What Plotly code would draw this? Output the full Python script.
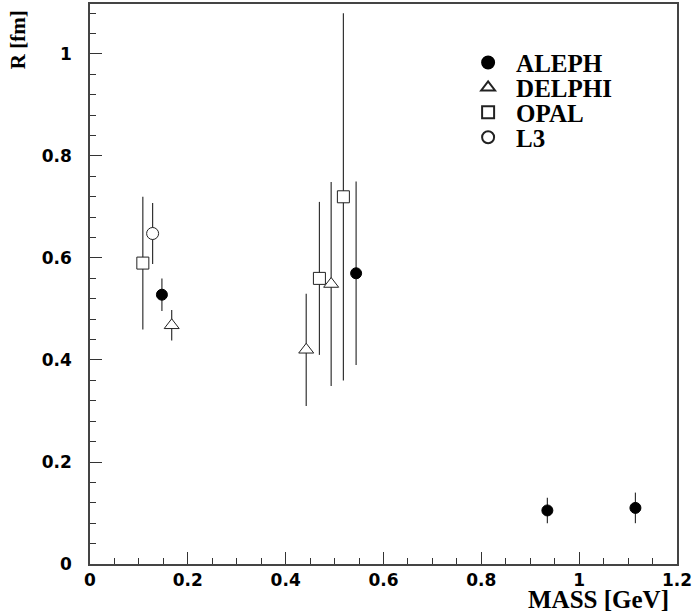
import plotly.graph_objects as go

# ---- data (mass in GeV, radius R in fm) ----
aleph_mass = [0.147, 0.544, 0.935, 1.115]
aleph_r = [0.528, 0.570, 0.105, 0.110]
aleph_err = [0.032, 0.180, 0.025, 0.030]

delphi_mass = [0.167, 0.442, 0.493]
delphi_r = [0.468, 0.420, 0.549]
delphi_err_plus = [0.030, 0.110, 0.200]
delphi_err_minus = [0.030, 0.110, 0.200]

opal_mass = [0.108, 0.469, 0.518]
opal_r = [0.590, 0.560, 0.720]
opal_err_plus = [0.130, 0.150, 0.360]
opal_err_minus = [0.130, 0.150, 0.360]

l3_mass = [0.128]
l3_r = [0.648]
l3_err_plus = [0.060]
l3_err_minus = [0.060]

x_ticks = [0, 0.2, 0.4, 0.6, 0.8, 1.0, 1.2]
x_ticklabels = ["0", "0.2", "0.4", "0.6", "0.8", "1", "1.2"]
y_ticks = [0, 0.2, 0.4, 0.6, 0.8, 1.0]
y_ticklabels = ["0", "0.2", "0.4", "0.6", "0.8", "1"]

ERR_COLOR = "#333333"
SERIF = "Liberation Serif, Times New Roman, serif"
SANS = "DejaVu Sans, Arial, sans-serif"

fig = go.Figure()


def err(plus, minus):
    return dict(type="data", symmetric=False, array=plus, arrayminus=minus,
                color=ERR_COLOR, thickness=1.2, width=0)


fig.add_trace(go.Scatter(
    x=aleph_mass, y=aleph_r, mode="markers", name="ALEPH", legend="legend",
    error_y=err(aleph_err, aleph_err),
    marker=dict(symbol="circle", size=11, color="black",
                line=dict(color="black", width=1)),
))
fig.add_trace(go.Scatter(
    x=delphi_mass, y=delphi_r, mode="markers", name="DELPHI", legend="legend2",
    error_y=err(delphi_err_plus, delphi_err_minus),
    marker=dict(symbol="triangle-up", size=13, color="white",
                line=dict(color="#222222", width=1)),
))
fig.add_trace(go.Scatter(
    x=opal_mass, y=opal_r, mode="markers", name="OPAL", legend="legend3",
    error_y=err(opal_err_plus, opal_err_minus),
    marker=dict(symbol="square", size=12, color="white",
                line=dict(color="#222222", width=1)),
))
fig.add_trace(go.Scatter(
    x=l3_mass, y=l3_r, mode="markers", name="L3", legend="legend4",
    error_y=err(l3_err_plus, l3_err_minus),
    marker=dict(symbol="circle", size=12, color="white",
                line=dict(color="#222222", width=1)),
))

L, R, T, B = 90, 14, 2, 52
W, H = 694, 616
pw = W - L - R
ph = H - T - B


def px_x(p):
    return (p - L) / pw


def px_y(p):
    return 1 - (p - T) / ph


leg_common = dict(
    font=dict(family=SERIF, size=25, color="black", weight="bold"),
    bgcolor="rgba(0,0,0,0)", borderwidth=0, xanchor="left", yanchor="middle",
    itemsizing="constant", itemwidth=46, x=px_x(462),
)
fig.update_layout(
    legend=dict(y=px_y(61), **leg_common),
    legend2=dict(y=px_y(86), **leg_common),
    legend3=dict(y=px_y(111), **leg_common),
    legend4=dict(y=px_y(136), **leg_common),
)

axis_common = dict(
    showgrid=False, zeroline=False, showline=True, linecolor="#444444",
    linewidth=1.5, mirror=True, ticks="inside", tickcolor="#333333",
    tickwidth=1, ticklen=12, ticklabeloverflow="allow",
    tickfont=dict(family=SANS, size=17, color="black", weight="bold"),
)
fig.update_xaxes(range=[0, 1.2], tickvals=x_ticks, ticktext=x_ticklabels,
                 minor=dict(dtick=0.05, ticks="inside", ticklen=6,
                            tickcolor="#333333", tickwidth=1),
                 ticklabelstandoff=0, **axis_common)
fig.update_yaxes(range=[0, 1.098], tickvals=y_ticks, ticktext=y_ticklabels,
                 minor=dict(dtick=0.04, ticks="inside", ticklen=6,
                            tickcolor="#333333", tickwidth=1),
                 ticklabelstandoff=13, **axis_common)

fig.update_layout(
    width=W, height=H,
    margin=dict(l=L, r=R, t=T, b=B, pad=0),
    plot_bgcolor="white", paper_bgcolor="white",
    showlegend=True,
    annotations=[
        dict(text="MASS [GeV]", xref="paper", yref="paper", x=px_x(673), y=px_y(600),
             xanchor="right", yanchor="middle", showarrow=False, borderpad=0,
             font=dict(family=SERIF, size=25, color="black", weight="bold")),
        dict(text="R [fm]", xref="paper", yref="paper", x=px_x(18), y=px_y(38),
             xanchor="center", yanchor="middle", showarrow=False, textangle=-90,
             font=dict(family=SERIF, size=21, color="black", weight="bold")),
    ],
)

fig.write_html(
    "out.html",
    config={"displayModeBar": False},
    post_script="document.body.style.margin='0';document.body.style.overflow='hidden';",
)
